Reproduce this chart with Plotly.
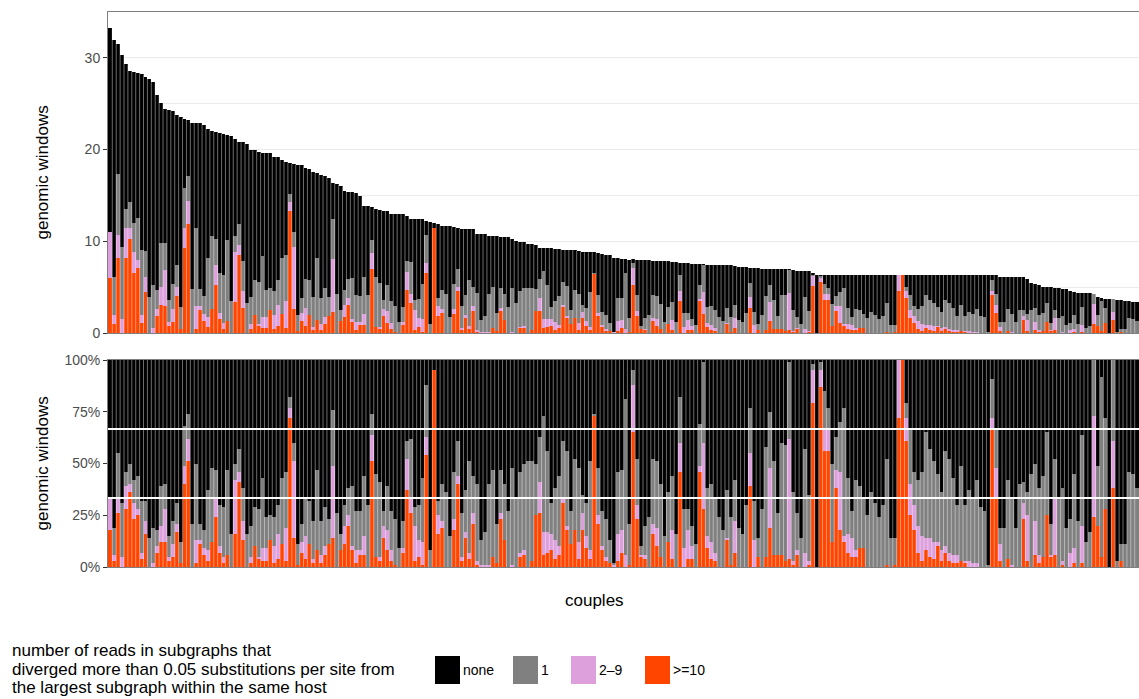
import plotly.graph_objects as go

# ---------------- data ----------------
# total genomic windows per couple (top panel bar heights)
totals = [
    33.3, 31.9, 31.5, 30.3, 29.3, 28.6, 28.5, 28.4, 28.2, 27.9,
    27.7, 27.4, 26.0, 25.1, 24.4, 24.3, 24.2, 23.8, 23.5, 23.3,
    23.2, 22.9, 22.9, 22.9, 22.7, 22.2, 22.0, 21.9, 21.8, 21.7,
    21.6, 21.5, 21.1, 20.8, 20.8, 20.6, 19.9, 19.9, 19.7, 19.6,
    19.6, 19.6, 19.2, 19.2, 18.9, 18.6, 18.5, 18.4, 18.3, 18.3,
    18.0, 17.9, 17.6, 17.4, 17.2, 17.1, 16.9, 16.4, 16.2, 16.0,
    15.5, 15.4, 15.4, 15.3, 14.9, 13.9, 13.8,
    13.7, 13.5, 13.4, 13.3, 13.3, 13.0, 13.0, 13.0, 13.0, 12.8,
    12.4, 12.4, 12.4, 12.4, 12.2, 12.1, 12.0, 11.9, 11.7, 11.7,
    11.7, 11.6, 11.4, 11.3, 11.3, 11.3, 11.3, 10.8, 10.8, 10.8,
    10.6, 10.6, 10.6, 10.5, 10.5, 10.5, 10.2, 10.0, 9.9, 9.9,
    9.7, 9.7, 9.6, 9.3, 9.3, 9.3, 9.3, 9.2, 9.2, 9.1,
    9.1, 9.1, 9.0, 8.9, 8.8, 8.8, 8.8, 8.8, 8.7, 8.6,
    8.5, 8.5, 8.2, 8.2, 8.1, 8.1, 8.0,
    8.07, 8.0, 7.96, 7.96, 7.96, 7.9, 7.85, 7.85, 7.85, 7.8,
    7.75, 7.75, 7.67, 7.67, 7.67, 7.56, 7.53, 7.53, 7.53, 7.45,
    7.45, 7.45, 7.45, 7.45, 7.45, 7.45, 7.35, 7.24, 7.16, 7.16,
    7.09, 7.09, 7.09, 6.98, 6.98, 6.98, 6.98, 6.98, 6.98, 6.98,
    6.95, 6.84, 6.8, 6.8, 6.8, 6.8, 6.5, 6.33, 6.33, 6.33,
    6.33, 6.33, 6.33, 6.33, 6.33, 6.33, 6.33, 6.33, 6.33, 6.33,
    6.33, 6.33, 6.33, 6.33, 6.33, 6.33, 6.33,
    6.33, 6.33, 6.33, 6.33, 6.33, 6.33, 6.33, 6.33, 6.33, 6.33,
    6.33, 6.33, 6.33, 6.33, 6.33, 6.33, 6.33, 6.33, 6.33, 6.33,
    6.33, 6.33, 6.33, 6.33, 6.33, 6.33, 6.33,
    6.15, 6.15, 6.15, 6.15, 6.15, 6.15, 6.15,
    5.85, 5.5, 5.35, 5.25, 5.05, 5.0, 4.97, 4.9, 4.87, 4.8,
    4.75, 4.55, 4.45, 4.35, 4.35, 4.35, 4.35, 4.3, 3.95, 3.8,
    3.75, 3.7, 3.7, 3.6, 3.55, 3.5, 3.5, 3.35, 3.35,
]

# share (%) of windows per category, per couple
share_10plus = [
    18, 3, 26, 0, 28, 36, 23, 25, 4, 16,
    0, 0, 7, 12, 12, 3, 5, 17, 2, 40,
    51, 0, 2, 11, 6, 3, 12, 24, 7, 2,
    6, 0, 16, 41, 13, 0, 2, 10, 4, 3,
    3, 13, 2, 4, 11, 3, 72, 14, 1, 7,
    4, 11, 2, 8, 2, 6, 11, 14, 0, 8,
    11, 20, 8, 2, 6, 6, 0, 51, 5, 3,
    14, 8, 3, 1, 0, 7, 37, 26, 3, 5,
    1, 54, 0, 95, 16, 19, 0, 0, 18, 40,
    3, 14, 4, 21, 1, 0, 0, 0, 5, 2,
    23, 13, 0, 0, 0, 5, 6, 0, 3, 25,
    26, 6, 7, 8, 4, 6, 31, 18, 11, 18,
    4, 18, 9, 4, 73, 21, 8, 3, 2, 0,
    3, 7, 0, 1, 65, 23, 5, 4, 0, 16,
    10, 5, 0, 12, 4, 0, 46, 0, 4, 4,
    0, 46, 28, 9, 4, 3, 0, 0, 13, 1,
    7, 0, 0, 0, 39, 0, 5, 0, 5, 19,
    6, 6, 6, 3, 4, 1, 6, 0, 0, 1,
    79, 0, 87, 56, 56, 12, 38, 18, 12, 7,
    5, 5, 9, 9, 0, 0, 0, 0, 0, 1,
    0, 1, 72, 100, 61, 25, 18, 7, 3, 8,
    5, 4, 10, 3, 7, 3, 2, 2, 3, 2,
    0, 0, 0, 0, 0, 0, 66, 34, 3, 0,
    4, 0, 0, 0, 23, 3, 0, 6, 2, 5,
    25, 5, 6, 0, 1, 0, 0, 2, 0, 2,
    0, 0, 24, 20, 5, 28, 0, 38, 0, 3,
    0, 0, 0, 0,
]
share_2to9 = [
    15, 3, 8, 5, 11, 4, 8, 3, 3, 6,
    0, 2, 3, 8, 16, 2, 6, 4, 0, 9,
    11, 0, 11, 2, 3, 5, 0, 10, 3, 3,
    0, 0, 26, 5, 9, 0, 3, 0, 1, 6,
    6, 0, 8, 12, 0, 16, 5, 37, 0, 5,
    11, 0, 2, 0, 4, 4, 0, 35, 0, 0,
    9, 5, 2, 6, 2, 9, 0, 13, 0, 2,
    6, 10, 5, 0, 0, 2, 15, 8, 17, 8,
    11, 9, 0, 0, 9, 3, 0, 0, 5, 4,
    2, 3, 3, 5, 2, 1, 1, 1, 0, 0,
    3, 0, 0, 1, 0, 2, 2, 0, 0, 0,
    15, 11, 10, 8, 9, 4, 2, 2, 0, 0,
    8, 8, 6, 4, 0, 4, 2, 2, 0, 1,
    13, 11, 6, 0, 23, 7, 1, 2, 0, 5,
    9, 0, 0, 0, 14, 0, 14, 9, 14, 6,
    0, 3, 32, 6, 8, 4, 0, 0, 1, 0,
    15, 0, 0, 0, 16, 13, 0, 0, 0, 29,
    0, 0, 0, 0, 58, 2, 2, 0, 7, 2,
    16, 0, 8, 11, 11, 0, 9, 28, 3, 9,
    9, 3, 0, 0, 0, 0, 0, 0, 0, 0,
    0, 0, 28, 0, 11, 15, 12, 13, 12, 6,
    9, 8, 2, 5, 3, 4, 4, 4, 0, 1,
    3, 2, 2, 0, 0, 0, 6, 14, 8, 0,
    0, 1, 0, 0, 8, 22, 0, 16, 4, 0,
    0, 1, 28, 0, 2, 0, 7, 7, 0, 18,
    0, 0, 49, 0, 0, 0, 0, 23, 0, 0,
    0, 0, 0, 0,
]
share_1 = [
    0, 13, 21, 26, 7, 10, 11, 16, 25, 10,
    14, 17, 8, 19, 12, 10, 11, 10, 10, 19,
    12, 21, 37, 8, 9, 29, 36, 13, 20, 24,
    41, 16, 8, 11, 16, 16, 15, 19, 23, 34,
    15, 12, 14, 14, 32, 27, 5, 9, 10, 9,
    18, 21, 18, 39, 16, 19, 12, 27, 26, 8,
    10, 13, 29, 19, 19, 29, 30, 10, 40, 36,
    7, 21, 19, 22, 9, 13, 9, 28, 9, 17,
    31, 25, 8, 0, 7, 18, 36, 15, 23, 17,
    21, 20, 44, 18, 37, 12, 16, 39, 42, 19,
    21, 27, 27, 47, 33, 39, 42, 51, 48, 25,
    22, 56, 39, 15, 25, 34, 28, 36, 16, 34,
    36, 9, 16, 43, 1, 23, 17, 18, 11, 1,
    30, 29, 75, 20, 7, 22, 4, 14, 24, 31,
    32, 35, 15, 24, 26, 16, 22, 19, 10, 10,
    11, 20, 39, 23, 28, 26, 24, 18, 23, 23,
    20, 19, 16, 30, 22, 19, 9, 28, 53, 27,
    45, 20, 54, 56, 37, 33, 18, 14, 50, 32,
    3, 0, 4, 18, 10, 38, 16, 24, 62, 27,
    13, 34, 30, 24, 25, 36, 31, 24, 30, 51,
    14, 13, 0, 0, 7, 26, 16, 22, 31, 51,
    43, 39, 33, 28, 46, 45, 37, 24, 46, 27,
    34, 31, 40, 29, 27, 1, 19, 19, 8, 19,
    38, 32, 19, 40, 10, 11, 45, 28, 32, 39,
    40, 15, 18, 33, 35, 19, 16, 36, 22, 44,
    12, 17, 27, 29, 87, 44, 0, 39, 3, 8,
    11, 46, 45, 38,
]

categories = ["none", "1", "2\u20139", ">=10"]
cat_colors = ["#000000", "#808080", "#DDA0DD", "#FF4500"]
y_ticks_top = [0, 10, 20, 30]
y_minor_top = [5, 15, 25, 35]
y_ticks_bottom = [0, 0.25, 0.5, 0.75, 1.0]
y_ticklabels_bottom = ["0%", "25%", "50%", "75%", "100%"]
guide_lines = [1 / 3, 2 / 3]
legend_title_lines = [
    "number of reads in subgraphs that",
    "diverged more than 0.05 substitutions per site from",
    "the largest subgraph within the same host",
]

n = len(totals)
assert n == len(share_10plus) == len(share_2to9) == len(share_1), (
    n, len(share_10plus), len(share_2to9), len(share_1))
share_none = [100 - a - b - c for a, b, c in zip(share_10plus, share_2to9, share_1)]
couples = list(range(n))

shares = {">=10": share_10plus, "2\u20139": share_2to9, "1": share_1, "none": share_none}
color_of = dict(zip(categories, cat_colors))
stack_order = [">=10", "2\u20139", "1", "none"]  # bottom -> top

fig = go.Figure()
for cat in stack_order:
    fig.add_trace(go.Bar(
        x=couples, y=[t * s / 100 for t, s in zip(totals, shares[cat])],
        name=cat, marker=dict(color=color_of[cat], line=dict(width=0)),
        xaxis="x", yaxis="y", showlegend=False))
for cat in stack_order:
    fig.add_trace(go.Bar(
        x=couples, y=[s / 100 for s in shares[cat]],
        name=cat, marker=dict(color=color_of[cat], line=dict(width=0)),
        xaxis="x2", yaxis="y2", showlegend=False))

# thin, regular separations between neighbouring bars (ggplot-like bar gaps)
sep_x_top, sep_y_top, sep_x_bot, sep_y_bot = [], [], [], []
for i in range(n - 1):
    xb = couples[i] + 0.5
    sep_x_top += [xb, xb, None]
    sep_y_top += [0, max(totals[i], totals[i + 1]), None]
    sep_x_bot += [xb, xb, None]
    sep_y_bot += [0, 1, None]
sep_style = dict(color="rgba(255,255,255,0.85)", width=0.5)
fig.add_trace(go.Scatter(x=sep_x_top, y=sep_y_top, mode="lines", line=sep_style,
                         hoverinfo="skip", showlegend=False, xaxis="x", yaxis="y"))
fig.add_trace(go.Scatter(x=sep_x_bot, y=sep_y_bot, mode="lines", line=sep_style,
                         hoverinfo="skip", showlegend=False, xaxis="x2", yaxis="y2"))

# ---------------- layout ----------------
W, H = 1139, 699
L, R, T, B = 108, 0, 12, 132
pw, ph = W - L - R, H - T - B


def px_x(p):
    return (p - L) / pw


def px_y(p):
    return (H - B - p) / ph


FONT = "Liberation Sans, Arial, Helvetica, sans-serif"
top_dom = [px_y(333), 1.0]
bot_dom = [0.0, px_y(360)]
frame = "#7F7F7F"
tickfont = dict(family=FONT, size=14, color="#4D4D4D")

fig.update_layout(
    width=W, height=H,
    margin=dict(l=L, r=R, t=T, b=B),
    barmode="stack", bargap=0.0,
    plot_bgcolor="white", paper_bgcolor="white",
    font=dict(family=FONT, size=14, color="#000000"),
    xaxis=dict(domain=[0, 1], anchor="y", range=[-0.6, n - 0.4],
               showticklabels=False, ticks="", showgrid=False, zeroline=False,
               showline=True, mirror=True, linecolor=frame, linewidth=1),
    yaxis=dict(domain=top_dom, anchor="x", range=[0, 35],
               tickmode="array", tickvals=y_ticks_top,
               ticks="outside", ticklen=4, tickcolor="#333333", tickfont=tickfont,
               showgrid=True, gridcolor="#EBEBEB", gridwidth=1,
               minor=dict(tickmode="array", tickvals=y_minor_top,
                          showgrid=True, gridcolor="#EBEBEB", gridwidth=1, ticks=""),
               zeroline=False, showline=True, mirror=True, linecolor=frame, linewidth=1),
    xaxis2=dict(domain=[0, 1], anchor="y2", matches="x", range=[-0.6, n - 0.4],
                showticklabels=False, ticks="", showgrid=False, zeroline=False,
                showline=True, mirror=True, linecolor=frame, linewidth=1),
    yaxis2=dict(domain=bot_dom, anchor="x2", range=[0, 1],
                tickmode="array", tickvals=y_ticks_bottom, ticktext=y_ticklabels_bottom,
                ticks="outside", ticklen=4, tickcolor="#333333", tickfont=tickfont,
                showgrid=False, zeroline=False,
                showline=True, mirror=True, linecolor=frame, linewidth=1),
)

for g in guide_lines:
    fig.add_shape(type="line", xref="x2 domain", yref="y2", x0=0, x1=1, y0=g, y1=g,
                  line=dict(color="white", width=2), layer="above")

title_font = dict(family=FONT, size=17, color="#000000")
fig.add_annotation(text="genomic windows", xref="paper", yref="paper",
                   x=px_x(42), y=px_y(172.5), textangle=-90, showarrow=False,
                   xanchor="center", yanchor="middle", font=title_font)
fig.add_annotation(text="genomic windows", xref="paper", yref="paper",
                   x=px_x(42), y=px_y(463.5), textangle=-90, showarrow=False,
                   xanchor="center", yanchor="middle", font=title_font)
fig.add_annotation(text="couples", xref="paper", yref="paper",
                   x=px_x(594), y=px_y(600), showarrow=False,
                   xanchor="center", yanchor="middle", font=title_font)

# legend (drawn manually to match the reference layout)
fig.add_annotation(text=legend_title_lines[0], xref="paper", yref="paper",
                   x=px_x(10), y=px_y(650), showarrow=False, align="left",
                   xanchor="left", yanchor="middle", font=title_font)
fig.add_annotation(text=legend_title_lines[1], xref="paper", yref="paper",
                   x=px_x(10), y=px_y(670), showarrow=False, align="left",
                   xanchor="left", yanchor="middle", font=title_font)
fig.add_annotation(text=legend_title_lines[2], xref="paper", yref="paper",
                   x=px_x(10), y=px_y(699), showarrow=False, align="left",
                   xanchor="left", yanchor="bottom", font=title_font)
key_left = [435, 513, 571, 645]
for cat, kx in zip(categories, key_left):
    fig.add_shape(type="rect", xref="paper", yref="paper",
                  x0=px_x(kx), x1=px_x(kx + 25), y0=px_y(684), y1=px_y(656),
                  fillcolor=color_of[cat], line=dict(width=0))
    fig.add_annotation(text=cat, xref="paper", yref="paper",
                       x=px_x(kx + 26), y=px_y(670), showarrow=False,
                       xanchor="left", yanchor="middle",
                       font=dict(family=FONT, size=14, color="#000000"))

fig.write_html("out.html", config={"staticPlot": True})
